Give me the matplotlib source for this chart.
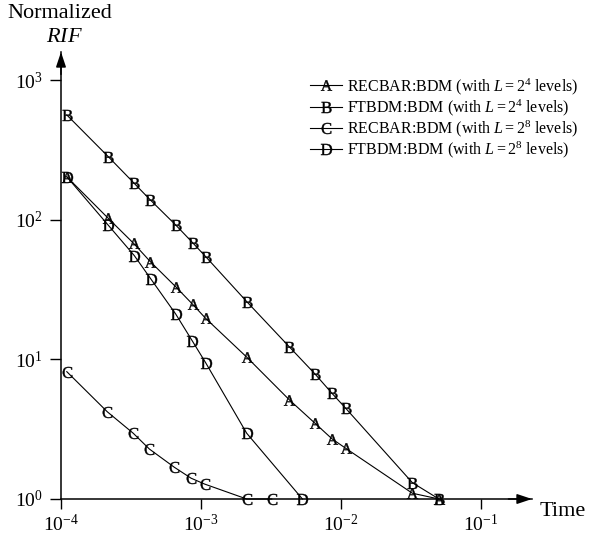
"""Normalized RIF vs Time -- log-log, letter markers, arrowed axes."""

import matplotlib
matplotlib.use("Agg")
import matplotlib.pyplot as plt

SERIF = "Liberation Serif"
plt.rcParams.update({
    "font.family": SERIF,
    "mathtext.fontset": "custom",
    "mathtext.rm": SERIF,
    "mathtext.it": SERIF + ":italic",
    "mathtext.bf": SERIF + ":bold",
})

# ----------------------------------------------------------------------------
# Data
# ----------------------------------------------------------------------------
x_ab = [1.1e-4, 2.17e-4, 3.3e-4, 4.35e-4, 6.6e-4, 8.7e-4, 1.08e-3, 2.12e-3,
        4.28e-3, 6.52e-3, 8.62e-3, 1.08e-2, 3.23e-2, 5.0e-2]
y_a = [204, 103, 68, 50.2, 33.2, 24.9, 19.7, 10.4, 5.13, 3.49, 2.70, 2.31, 1.10, 1.0]
y_b = [566, 285, 185, 139, 92, 68.8, 54.6, 26, 12.3, 7.87, 5.72, 4.47, 1.31, 1.0]

x_c = [1.1e-4, 2.14e-4, 3.28e-4, 4.28e-4, 6.44e-4, 8.49e-4, 1.06e-3, 2.12e-3, 3.2e-3]
y_c = [8.18, 4.22, 2.96, 2.28, 1.69, 1.41, 1.28, 1.0, 1.0]

x_d = [1.1e-4, 2.17e-4, 3.34e-4, 4.38e-4, 6.59e-4, 8.66e-4, 1.08e-3, 2.12e-3, 5.3e-3]
y_d = [204, 92, 55.5, 37.8, 21.2, 13.6, 9.47, 2.96, 1.0]

labels = [
    r"RECBAR:BDM (with $L=2^4$ levels)",
    r"FTBDM:BDM (with $L=2^4$ levels)",
    r"RECBAR:BDM (with $L=2^8$ levels)",
    r"FTBDM:BDM (with $L=2^8$ levels)",
]
letters = ["A", "B", "C", "D"]

x_ticks = [1e-4, 1e-3, 1e-2, 1e-1]
x_ticklabels = [r"$10^{-4}$", r"$10^{-3}$", r"$10^{-2}$", r"$10^{-1}$"]
y_ticks = [1, 10, 100, 1000]
y_ticklabels = [r"$10^0$", r"$10^1$", r"$10^2$", r"$10^3$"]

# ----------------------------------------------------------------------------
W, H = 589, 542
fig = plt.figure(figsize=(W / 100, H / 100), dpi=100)
ax = fig.add_axes([61 / W, 1 - 499 / H, (532 - 61) / W, (499 - 52) / H])
ax.set_xscale("log")
ax.set_yscale("log")
ax.set_xlim(1e-4, 10 ** -0.636)
ax.set_ylim(1, 10 ** 3.204)

series = [(x_ab, y_a), (x_ab, y_b), (x_c, y_c), (x_d, y_d)]
for (xs, ys), let, lab in zip(series, letters, labels):
    ax.plot(xs, ys, color="black", lw=0.8, marker=rf"$\mathrm{{{let}}}$",
            ms=8, mew=0.3, mfc="black", mec="black", clip_on=False,
            label=lab, zorder=3)

for side in ("top", "right"):
    ax.spines[side].set_visible(False)
for side in ("left", "bottom"):
    ax.spines[side].set_linewidth(1.1)

ax.set_xticks(x_ticks)
ax.set_xticklabels(x_ticklabels)
ax.set_yticks(y_ticks)
ax.set_yticklabels(y_ticklabels)
ax.minorticks_off()
ax.tick_params(axis="x", direction="out", length=7, width=1.0, pad=4, labelsize=14)
ax.tick_params(axis="y", direction="out", length=8, width=1.0, pad=5, labelsize=14)

arrow = dict(arrowstyle="-|>,head_length=0.9,head_width=0.3", color="black",
             lw=1.1, shrinkA=0, shrinkB=0)
ax.annotate("", xy=(1, 0), xytext=(0.95, 0), xycoords="axes fraction", arrowprops=arrow)
ax.annotate("", xy=(0, 1), xytext=(0, 0.95), xycoords="axes fraction", arrowprops=arrow)

fig.text(60 / W, 1 - 13 / H, "Normalized", ha="center", va="center", fontsize=16)
fig.text(64 / W, 1 - 37 / H, r"$RIF$", ha="center", va="center", fontsize=16)
fig.text(540 / W, 1 - 512 / H, "Time", ha="left", va="center", fontsize=16)

ax.legend(loc="upper left", bbox_to_anchor=(310 / W, 1 - 76 / H),
          bbox_transform=fig.transFigure, frameon=False, fontsize=11.5,
          handlelength=2.0, handletextpad=0.3, labelspacing=0.05,
          borderpad=0, borderaxespad=0, numpoints=1)

fig.savefig("out.png", dpi=100)
